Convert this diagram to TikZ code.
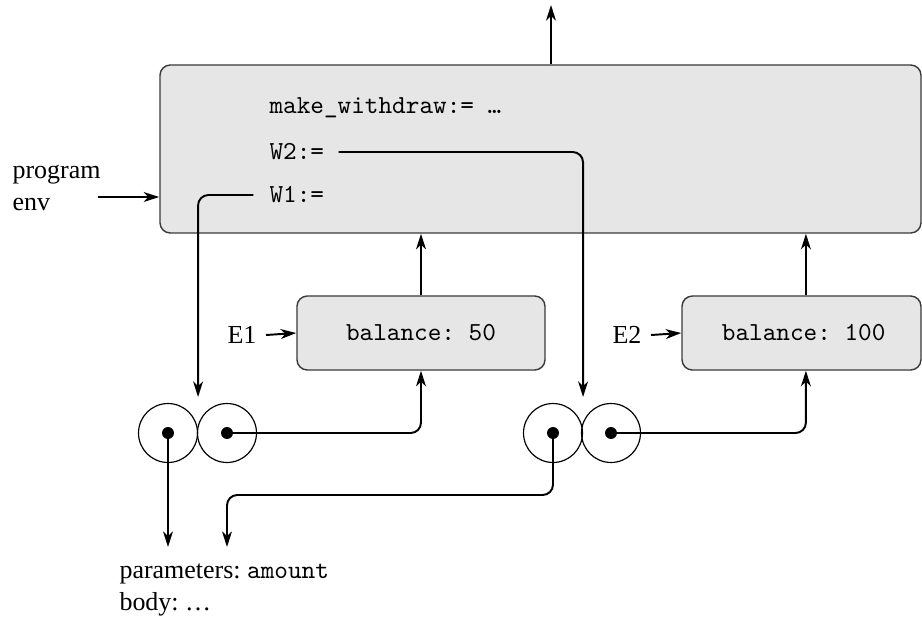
\documentclass[tikz,border=0pt]{standalone}
\usepackage{fontspec}
\setmainfont{Liberation Serif}
\frenchspacing
\usetikzlibrary{arrows.meta,calc}
\definecolor{boxfill}{HTML}{E6E6E6}
\definecolor{boxline}{HTML}{3A3A3A}
\begin{document}
\begin{tikzpicture}[x=0.385pt,y=-0.385pt,
  conn/.style={line width=0.75pt,-{Stealth[length=6pt,width=3.8pt,inset=1.8pt]}},
  envbox/.style={draw=boxline,fill=boxfill,line width=0.55pt,rounded corners=4pt,inner sep=0pt},
  txt/.style={inner sep=0pt,anchor=west},
  cell/.style={circle,draw,line width=0.45pt,minimum size=22.7pt,inner sep=0pt},
  dot/.style={circle,fill,minimum size=4.6pt,inner sep=0pt}]
\useasboundingbox (0,0) rectangle (922,621);
% boxes
\node[envbox,minimum width=293pt,minimum height=64.7pt] (env) at (540.5,149) {};
\node[envbox,minimum width=95.5pt,minimum height=28.5pt] (e1) at (421,333) {\ttfamily balance: 50};
\node[envbox,minimum width=92pt,minimum height=28.5pt] (e2) at (801.5,333) {\hspace*{1.7pt}\ttfamily balance: 100};
% texts in program env
\node[txt] (mw) at (269,108) {\ttfamily make\_withdraw:= …};
\node[txt] (w2) at (269,152) {\ttfamily W2:=};
\node[txt] (w1) at (269,195) {\ttfamily W1:=};
% labels
\node[txt,align=left] (penvlab) at (12,188) {program\\env};
\node[txt] (e1lab) at (227,335) {E1};
\node[txt] (e2lab) at (612,335) {E2};
\node[txt,align=left] (proc) at (119,590) {parameters: \texttt{amount}\\body: …};
% circles
\node[cell] (a1) at (168,433) {};
\node[cell] (a2) at (227,433) {};
\node[cell] (b1) at (553,433) {};
\node[cell] (b2) at (611,433) {};
\node[dot] (da1) at (a1) {};
\node[dot] (da2) at (a2) {};
\node[dot] (db1) at (b1) {};
\node[dot] (db2) at (b2) {};
% coordinates
\coordinate (top) at (551,5);
\coordinate (penv) at (98,197);
\coordinate (p1end) at (168,547);
\coordinate (p2turn) at (227,495);
\coordinate (p2end) at (227,547);
% connectors
\draw[conn] (top |- env.north) -- (top);
\draw[conn] (penv) -- (penv -| env.west);
\draw[conn] ([xshift=3.5pt]e1lab.east) -- (e1.west);
\draw[conn] ([xshift=3.5pt]e2lab.east) -- (e2.west);
\draw[conn] (e1.north) -- (e1.north |- env.south);
\draw[conn] ([xshift=1.7pt]e2.north) -- ([xshift=1.7pt]e2.north |- env.south);
\draw[conn,rounded corners=4pt] ([xshift=5.4pt]w2.east) -| ($(b1.east)+(0,-36)$);
\draw[conn,rounded corners=4pt] ([xshift=-6pt]w1.west) -| ($(a1.east)+(0,-36)$);
\draw[conn,rounded corners=4pt] (da2.center) -| (e1.south);
\draw[conn,rounded corners=4pt] (db2.center) -| ([xshift=1.7pt]e2.south);
\draw[conn] (da1.center) -- (p1end);
\draw[conn,rounded corners=4pt] (db1.center) |- (p2turn) -- (p2end);
\end{tikzpicture}
\end{document}
